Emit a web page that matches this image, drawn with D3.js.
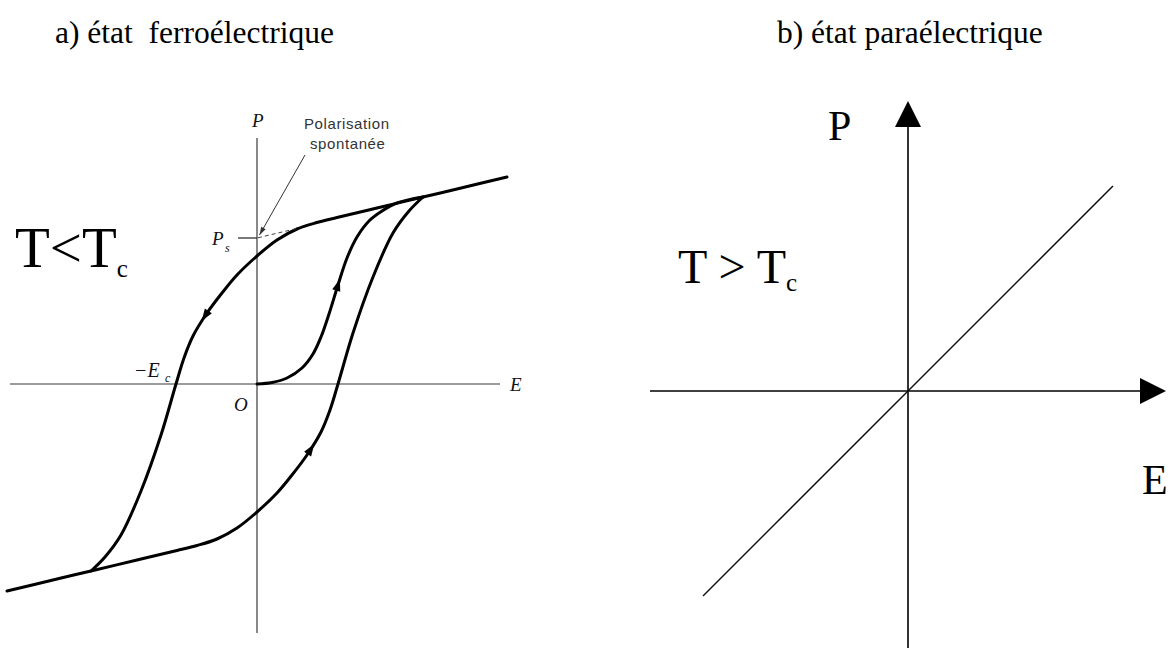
<!DOCTYPE html>
<html>
<head>
<meta charset="utf-8">
<script src="https://cdn.jsdelivr.net/npm/d3@7/dist/d3.min.js"></script>
<style>
  html, body { margin: 0; padding: 0; background: #fff; }
  svg { display: block; }
</style>
</head>
<body>
<svg id="chart" width="1173" height="648"></svg>
<script>
// ---------- data ----------
// Hysteresis loop (ferroelectric state), field E and polarisation P in arbitrary units
const descendingBranch = [
  [25, 20.7], [20, 19.5], [16.6, 18.7], [12, 17.6], [8, 16.65], [6, 16.15],
  [4, 15.5], [2, 14.4], [0, 12.8], [-2, 10.9], [-3.5, 9.1], [-5, 7.1],
  [-6.4, 4.8], [-7.3, 2.6], [-8.1, 0], [-9.6, -5.1], [-11.6, -10.7],
  [-13.6, -15.1], [-15.2, -17.3], [-16.6, -18.7]
];
const ascendingBranch = [
  [-25, -20.7], [-20, -19.5], [-16.6, -18.7], [-12, -17.6], [-8, -16.65], [-6, -16.15],
  [-4, -15.5], [-2, -14.4], [0, -12.8], [2, -10.9], [3.5, -9.1], [5, -7.1],
  [6.4, -4.8], [7.3, -2.6], [8.1, 0], [9.6, 5.1], [11.6, 10.7],
  [13.6, 15.1], [15.2, 17.3], [16.6, 18.7]
];
const firstPolarisation = [
  [0, 0], [1.5, 0.15], [3, 0.6], [4.5, 1.6], [5.6, 3.0], [6.4, 4.7], [7.2, 7.0],
  [8.1, 9.9], [9.0, 12.6], [10.0, 14.7], [11.2, 16.3], [12.5, 17.3], [14, 18.1], [16.6, 18.7]
];
// Direction arrows: which branch and the field value where the arrow sits
const loopArrows = [
  { branch: "descending", E: -5.2 },
  { branch: "virgin", E: 8.1 },
  { branch: "ascending", E: 5.4 }
];
const spontaneousP = 14.6;     // extrapolated saturation line at E = 0
const saturationSlope = 0.238; // slope of the saturation line
const coerciveField = 8.1;

// Paraelectric state: linear response P = chi * E
const paraField = [-20.5, 20.5];
const paraChi = 1.0;

// ---------- drawing ----------
const svg = d3.select("#chart");
svg.append("rect").attr("width", 1173).attr("height", 648).attr("fill", "#fff");

const serif = "'Liberation Serif', 'Times New Roman', serif";
const sans = "'Liberation Sans', Arial, sans-serif";

// Panel titles
svg.append("text").attr("x", 55).attr("y", 43)
  .attr("font-family", serif).attr("font-size", 31.5).attr("fill", "#000")
  .attr("xml:space", "preserve")
  .text("a) état  ferroélectrique");
svg.append("text").attr("x", 777).attr("y", 43)
  .attr("font-family", serif).attr("font-size", 31.5).attr("fill", "#000")
  .text("b) état paraélectrique");

// ===== a) ferroelectric =====
const xL = d3.scaleLinear().domain([-25, 25]).range([7, 507]);
const yL = d3.scaleLinear().domain([-25, 25]).range([634, 134]);
const gL = svg.append("g");

// axes
gL.append("line")
  .attr("x1", xL(-24.7)).attr("x2", xL(24.3))
  .attr("y1", yL(0)).attr("y2", yL(0))
  .attr("stroke", "#3a3a3a").attr("stroke-width", 1.2);
gL.append("line")
  .attr("x1", xL(0)).attr("x2", xL(0))
  .attr("y1", yL(24.6)).attr("y2", yL(-24.9))
  .attr("stroke", "#3a3a3a").attr("stroke-width", 1.2);

const loopLine = d3.line()
  .x(d => xL(d[0])).y(d => yL(d[1]))
  .curve(d3.curveCatmullRom.alpha(0.5));

const branches = {
  descending: descendingBranch,
  ascending: ascendingBranch,
  virgin: firstPolarisation
};
const branchPaths = {};
Object.entries(branches).forEach(([name, data]) => {
  branchPaths[name] = gL.append("path")
    .datum(data)
    .attr("d", loopLine)
    .attr("fill", "none")
    .attr("stroke", "#000")
    .attr("stroke-width", 3)
    .attr("stroke-linejoin", "round")
    .attr("stroke-linecap", "round");
});

// arrowheads along the branches, oriented with the direction of travel
loopArrows.forEach(a => {
  const node = branchPaths[a.branch].node();
  const total = node.getTotalLength();
  const targetX = xL(a.E);
  let best = 0, bestDist = Infinity;
  for (let l = 0; l <= total; l += 0.5) {
    const p = node.getPointAtLength(l);
    const dd = Math.abs(p.x - targetX);
    if (dd < bestDist) { bestDist = dd; best = l; }
  }
  const p = node.getPointAtLength(best);
  const p0 = node.getPointAtLength(Math.max(0, best - 2));
  const p1 = node.getPointAtLength(Math.min(total, best + 2));
  const ang = Math.atan2(p1.y - p0.y, p1.x - p0.x) * 180 / Math.PI;
  gL.append("path")
    .attr("d", "M6,0 L-6,-4.2 L-6,4.2 Z")
    .attr("fill", "#000")
    .attr("transform", `translate(${p.x},${p.y}) rotate(${ang})`);
});

// spontaneous polarisation: tick on the P axis and dashed extrapolation
gL.append("line")
  .attr("x1", xL(-1.9)).attr("x2", xL(0))
  .attr("y1", yL(spontaneousP)).attr("y2", yL(spontaneousP))
  .attr("stroke", "#222").attr("stroke-width", 1.2);
gL.append("line")
  .attr("x1", xL(0.1)).attr("x2", xL(4.2))
  .attr("y1", yL(spontaneousP + 0.1 * saturationSlope))
  .attr("y2", yL(spontaneousP + 4.2 * saturationSlope))
  .attr("stroke", "#444").attr("stroke-width", 1)
  .attr("stroke-dasharray", "4,3");

// leader arrow for the annotation
const leadFrom = [4.8, 22.9], leadTo = [0.25, 14.9];
gL.append("line")
  .attr("x1", xL(leadFrom[0])).attr("y1", yL(leadFrom[1]))
  .attr("x2", xL(leadTo[0])).attr("y2", yL(leadTo[1]))
  .attr("stroke", "#333").attr("stroke-width", 1);
{
  const ang = Math.atan2(yL(leadTo[1]) - yL(leadFrom[1]), xL(leadTo[0]) - xL(leadFrom[0])) * 180 / Math.PI;
  gL.append("path")
    .attr("d", "M0,0 L-8,-2.6 L-8,2.6 Z")
    .attr("fill", "#333")
    .attr("transform", `translate(${xL(leadTo[0])},${yL(leadTo[1])}) rotate(${ang})`);
}

gL.append("text").attr("x", 304).attr("y", 129)
  .attr("font-family", sans).attr("font-size", 15).attr("fill", "#333")
  .attr("letter-spacing", 0.6)
  .text("Polarisation");
gL.append("text").attr("x", 310).attr("y", 149)
  .attr("font-family", sans).attr("font-size", 15).attr("fill", "#333")
  .attr("letter-spacing", 0.6)
  .text("spontanée");

// axis labels (italic)
const italic = (x, y, txt, size) => gL.append("text")
  .attr("x", x).attr("y", y)
  .attr("font-family", serif).attr("font-style", "italic")
  .attr("font-size", size).attr("fill", "#111").text(txt);
italic(xL(0) - 5, 127, "P", 19);
italic(xL(24.3) + 10, yL(0) + 7, "E", 19);
italic(xL(0) - 23, yL(0) + 27, "O", 19);
italic(xL(-coerciveField) - 42, yL(0) - 7, "−E", 20);
italic(xL(-coerciveField) - 11, yL(0) - 2, "c", 12);
italic(xL(0) - 45, yL(spontaneousP) + 7, "P", 19);
italic(xL(0) - 32, yL(spontaneousP) + 14, "s", 12);

// T < Tc
const tl = svg.append("text").attr("x", 15).attr("y", 267)
  .attr("font-family", serif).attr("font-size", 57).attr("fill", "#000");
tl.append("tspan").text("T<T");
tl.append("tspan").attr("font-size", 25).attr("dy", 10).text("c");

// ===== b) paraelectric =====
const xR = d3.scaleLinear().domain([-25, 25]).range([658, 1158]);
const yR = d3.scaleLinear().domain([-25, 25]).range([641, 141]);
const gR = svg.append("g");

const defs = svg.append("defs");
defs.append("marker").attr("id", "axisHead")
  .attr("viewBox", "0 0 10 10").attr("refX", 0).attr("refY", 5)
  .attr("markerUnits", "userSpaceOnUse")
  .attr("markerWidth", 28).attr("markerHeight", 26)
  .attr("orient", "auto")
  .append("path").attr("d", "M0,0 L10,5 L0,10 Z").attr("fill", "#000");

gR.append("line")
  .attr("x1", xR(-25.8)).attr("x2", xR(23.2))
  .attr("y1", yR(0)).attr("y2", yR(0))
  .attr("stroke", "#000").attr("stroke-width", 1.6)
  .attr("marker-end", "url(#axisHead)");
gR.append("line")
  .attr("x1", xR(0)).attr("x2", xR(0))
  .attr("y1", yR(-25.8)).attr("y2", yR(26.4))
  .attr("stroke", "#000").attr("stroke-width", 1.6)
  .attr("marker-end", "url(#axisHead)");

gR.append("line")
  .datum(paraField)
  .attr("x1", d => xR(d[0])).attr("y1", d => yR(paraChi * d[0]))
  .attr("x2", d => xR(d[1])).attr("y2", d => yR(paraChi * d[1]))
  .attr("stroke", "#111").attr("stroke-width", 1.5);

gR.append("text").attr("x", 828).attr("y", 140)
  .attr("font-family", serif).attr("font-size", 42).attr("fill", "#000").text("P");
gR.append("text").attr("x", 1142).attr("y", 494)
  .attr("font-family", serif).attr("font-size", 42).attr("fill", "#000").text("E");
const tr = gR.append("text").attr("x", 678).attr("y", 283)
  .attr("font-family", serif).attr("font-size", 48).attr("fill", "#000")
  .attr("xml:space", "preserve");
tr.append("tspan").text("T > T");
tr.append("tspan").attr("font-size", 25).attr("dy", 8).text("c");
</script>
</body>
</html>
